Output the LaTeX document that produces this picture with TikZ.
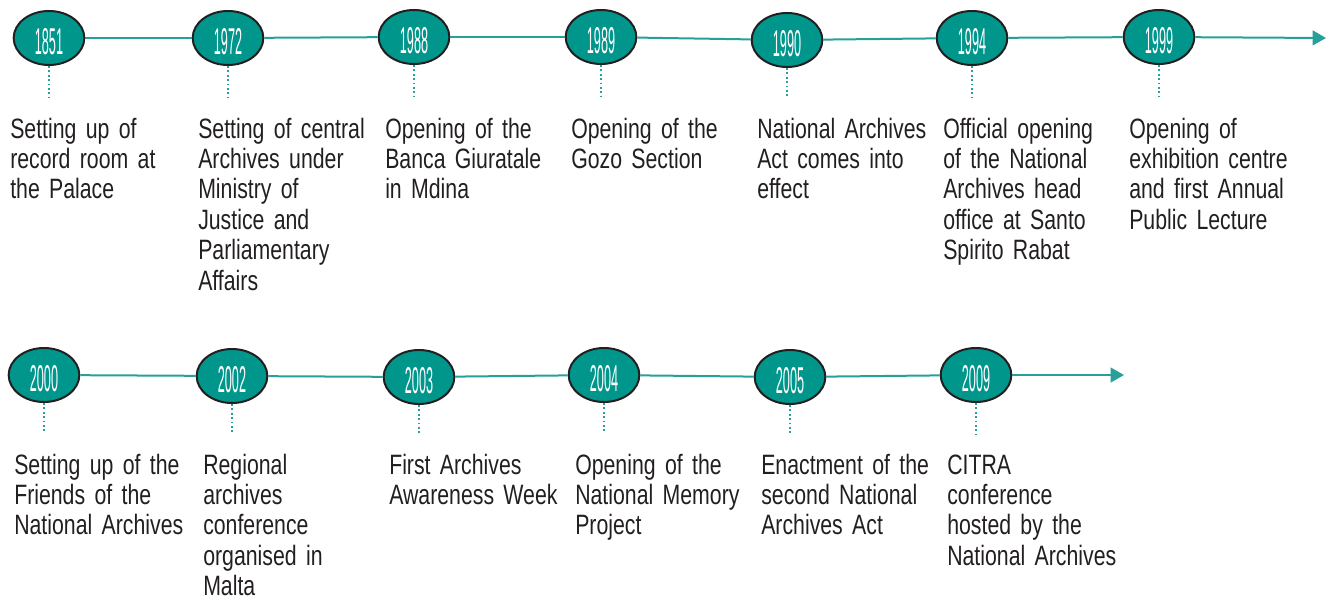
\documentclass[tikz,border=0pt]{standalone}
\usepackage{fontspec}
\setmainfont{Liberation Sans}[FakeStretch=0.76]
\newfontfamily\yearfont{Liberation Sans}[FakeStretch=0.34]
\usetikzlibrary{shapes.geometric,arrows.meta}

\definecolor{archteal}{RGB}{0,150,140}
\definecolor{axisteal}{RGB}{38,160,152}
\definecolor{ink}{RGB}{35,31,32}

\begin{document}
\begin{tikzpicture}[x=0.75pt,y=0.75pt,yscale=-1,
	year/.style={ellipse,draw=ink,line width=1.5pt,fill=archteal,inner sep=0pt,
		minimum width=53pt,minimum height=40.5pt,text=white,
		font=\fontsize{28}{28}\selectfont\yearfont,text height=25pt,text depth=0pt},
	event/.style={anchor=base west,inner sep=0pt,text width=150pt,align=left,
		text=ink,font=\fontsize{21}{22.8}\selectfont},
	axis/.style={draw=axisteal,line width=1.5pt},
	tick/.style={draw=axisteal,line width=1.3pt,dotted,shorten >=15pt}]
\useasboundingbox (0,0) rectangle (1333,599);

%first row: 1851 - 1999
\node[year] (y1851) at (49,38) {1851};
\node[year] (y1972) at (228,38) {1972};
\node[year] (y1988) at (414,37) {1988};
\node[year] (y1989) at (601,37) {1989};
\node[year] (y1990) at (787,40) {1990};
\node[year] (y1994) at (972,38) {1994};
\node[year] (y1999) at (1159,37) {1999};
\coordinate (end1) at (1326,38);

\node[event] (e1851) at (10,138) {Setting up of\\record room at\\the Palace};
\node[event] (e1972) at (198,138) {Setting of central\\Archives under\\Ministry of\\Justice and\\Parliamentary\\Affairs};
\node[event] (e1988) at (385,138) {Opening of the\\Banca Giuratale\\in Mdina};
\node[event] (e1989) at (571,138) {Opening of the\\Gozo Section};
\node[event] (e1990) at (757,138) {National Archives\\Act comes into\\effect};
\node[event] (e1994) at (943,138) {Official opening\\of the National\\Archives head\\office at Santo\\Spirito Rabat};
\node[event] (e1999) at (1129,138) {Opening of\\exhibition centre\\and first Annual\\Public Lecture};

\draw[axis] (y1851) -- (y1972);
\draw[axis] (y1972) -- (y1988);
\draw[axis] (y1988) -- (y1989);
\draw[axis] (y1989) -- (y1990);
\draw[axis] (y1990) -- (y1994);
\draw[axis] (y1994) -- (y1999);
\draw[axis,-{Triangle[length=10pt,width=11pt]}] (y1999) -- (end1);

\draw[tick] (y1851.south) -- (y1851.south |- e1851.north);
\draw[tick] (y1972.south) -- (y1972.south |- e1972.north);
\draw[tick] (y1988.south) -- (y1988.south |- e1988.north);
\draw[tick] (y1989.south) -- (y1989.south |- e1989.north);
\draw[tick] (y1990.south) -- (y1990.south |- e1990.north);
\draw[tick] (y1994.south) -- (y1994.south |- e1994.north);
\draw[tick] (y1999.south) -- (y1999.south |- e1999.north);

%second row: 2000 - 2009
\node[year] (y2000) at (44,375) {2000};
\node[year] (y2002) at (232,376) {2002};
\node[year] (y2003) at (419,377) {2003};
\node[year] (y2004) at (604,375) {2004};
\node[year] (y2005) at (790,377) {2005};
\node[year] (y2009) at (976,375) {2009};
\coordinate (end2) at (1124,375);

\node[event] (e2000) at (14,474) {Setting up of the\\Friends of the\\National Archives};
\node[event] (e2002) at (203,474) {Regional\\archives\\conference\\organised in\\Malta};
\node[event] (e2003) at (389,474) {First Archives\\Awareness Week};
\node[event] (e2004) at (575,474) {Opening of the\\National Memory\\Project};
\node[event] (e2005) at (761,474) {Enactment of the\\second National\\Archives Act};
\node[event] (e2009) at (947,474) {CITRA\\conference\\hosted by the\\National Archives};

\draw[axis] (y2000) -- (y2002);
\draw[axis] (y2002) -- (y2003);
\draw[axis] (y2003) -- (y2004);
\draw[axis] (y2004) -- (y2005);
\draw[axis] (y2005) -- (y2009);
\draw[axis,-{Triangle[length=10pt,width=11pt]}] (y2009) -- (end2);

\draw[tick] (y2000.south) -- (y2000.south |- e2000.north);
\draw[tick] (y2002.south) -- (y2002.south |- e2002.north);
\draw[tick] (y2003.south) -- (y2003.south |- e2003.north);
\draw[tick] (y2004.south) -- (y2004.south |- e2004.north);
\draw[tick] (y2005.south) -- (y2005.south |- e2005.north);
\draw[tick] (y2009.south) -- (y2009.south |- e2009.north);
\end{tikzpicture}
\end{document}
